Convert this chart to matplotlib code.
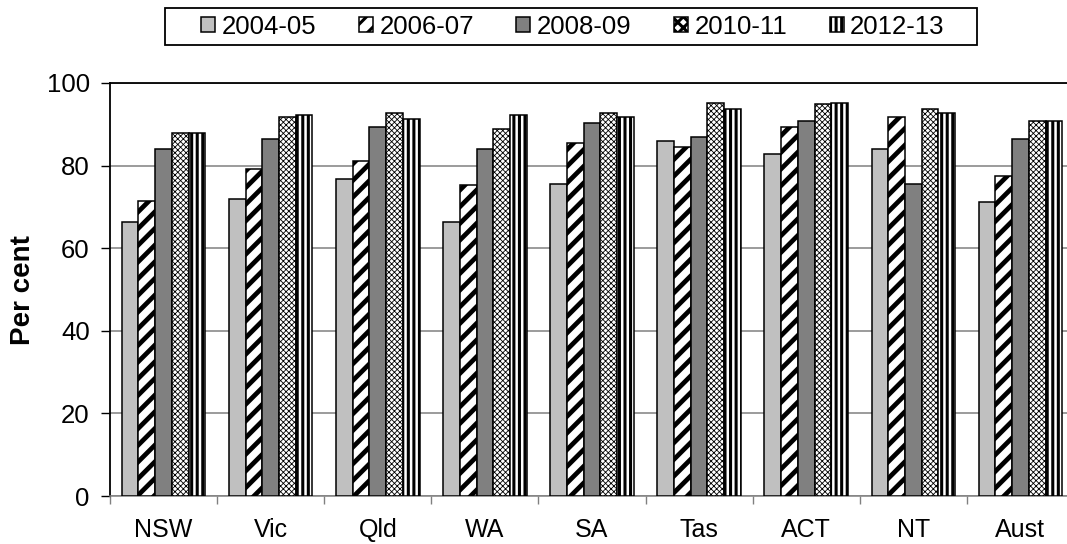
import matplotlib
matplotlib.use("Agg")
import matplotlib.pyplot as plt
from matplotlib.patches import Rectangle
import numpy as np

plt.rcParams['font.family'] = ['Liberation Sans', 'DejaVu Sans']

regions = ["NSW", "Vic", "Qld", "WA", "SA", "Tas", "ACT", "NT", "Aust"]
years = ["2004-05", "2006-07", "2008-09", "2010-11", "2012-13"]

v_2004 = [66.4, 71.8, 76.7, 66.4, 75.6, 85.9, 82.9, 84.0, 71.3]
v_2006 = [71.4, 79.2, 81.2, 75.3, 85.5, 84.4, 89.3, 91.8, 77.6]
v_2008 = [84.0, 86.4, 89.3, 84.0, 90.2, 86.9, 90.7, 75.6, 86.4]
v_2010 = [88.0, 91.7, 92.7, 88.8, 92.8, 95.1, 94.8, 93.6, 90.7]
v_2012 = [88.0, 92.2, 91.2, 92.2, 91.7, 93.6, 95.1, 92.7, 90.7]
series = [v_2004, v_2006, v_2008, v_2010, v_2012]

# face colour, bar hatch, legend hatch, hatch line width
styles = [
    ("#C0C0C0", None, None, 1.0),
    ("white", "//", "//", 3.4),
    ("#808080", None, None, 1.0),
    ("white", "xxxxxx", "xxx", 0.6),
    ("white", "|||", "|||", 2.2),
]


def set_hlw(patch, hlw):
    if hasattr(patch, "set_hatch_linewidth"):
        patch.set_hatch_linewidth(hlw)


fig = plt.figure(figsize=(10.67, 5.44), dpi=100)
ax = fig.add_axes([110 / 1067, 48 / 544, 964 / 1067, 413 / 544])

x = np.arange(len(regions))
w = 0.156
handles = []
for i, (vals, (fc, hatch, leg_hatch, hlw)) in enumerate(zip(series, styles)):
    plt.rcParams['hatch.linewidth'] = hlw
    bars = ax.bar(x + (i - 2) * w, vals, w, color=fc, edgecolor="black",
                  linewidth=1.1, hatch=hatch, zorder=3)
    for b in bars:
        set_hlw(b, hlw)
    h = Rectangle((0, 0), 1, 1, facecolor=fc, edgecolor="black",
                  linewidth=1.1, hatch=leg_hatch)
    set_hlw(h, hlw)
    handles.append(h)

ax.set_xlim(-0.5, len(regions) - 0.5)
ax.set_ylim(0, 100)
ax.set_yticks(range(0, 101, 20))
ax.tick_params(axis="y", labelsize=18.5, length=6.5, width=1, pad=8)
ax.yaxis.grid(True, color="#808080", linewidth=1.1, zorder=0)

ax.set_xticks(x)
ax.set_xticklabels(regions)
ax.set_xticks(np.arange(len(regions) + 1) - 0.5, minor=True)
ax.tick_params(axis="x", which="major", labelsize=18, length=0, pad=16)
ax.tick_params(axis="x", which="minor", length=6, width=1, color="#808080")

ax.spines["left"].set_linewidth(1.3)
ax.spines["top"].set_linewidth(1.3)
ax.spines["bottom"].set_color("#808080")
ax.spines["bottom"].set_linewidth(1.1)
ax.spines["right"].set_visible(False)

fig.text(23 / 1067, 1 - 290 / 544, "Per cent", rotation=90, fontsize=20,
         fontweight="bold", ha="center", va="center")

# legend box drawn separately so the padding matches
fig.patches.append(Rectangle((165 / 1067, 1 - 45 / 544), 812 / 1067, 37 / 544,
                             transform=fig.transFigure, fill=False,
                             edgecolor="black", linewidth=1.3))
fig.legend(handles, years, loc="center",
           bbox_to_anchor=(573 / 1067, 1 - 26.5 / 544),
           ncol=5, fontsize=18.5, frameon=False, handlelength=0.55,
           handleheight=0.55, handletextpad=0.25, columnspacing=1.65,
           borderpad=0.1)

fig.savefig("out.png", dpi=100)
